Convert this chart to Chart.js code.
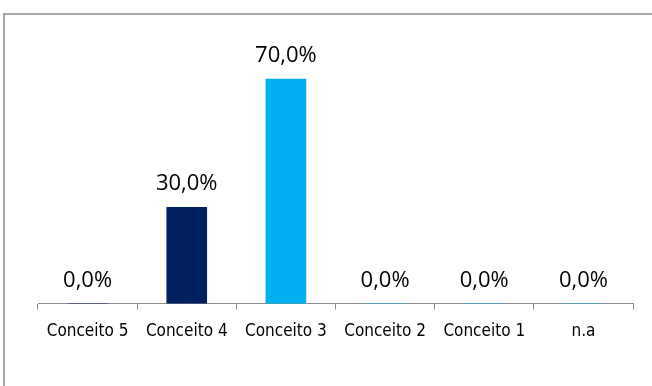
<!DOCTYPE html>
<html>
<head>
<meta charset="utf-8">
<script src="https://cdn.jsdelivr.net/npm/chart.js@4/dist/chart.umd.min.js"></script>
<style>
  html, body { margin: 0; padding: 0; background: #fff; }
  #frame {
    position: absolute; left: 3px; top: 13px;
    width: 649px; height: 373px;
    border-top: 2px solid #a6a6a6; border-left: 2px solid #a6a6a6;
  }
  #wrap { position: relative; width: 647px; height: 371px; }
</style>
</head>
<body>
<div id="frame"><div id="wrap"><canvas id="chart"></canvas></div></div>
<script>
const categories = ["Conceito 5", "Conceito 4", "Conceito 3", "Conceito 2", "Conceito 1", "n.a"];
const shares = [0, 0.30, 0.70, 0, 0, 0];
const barColors = ["#002060", "#002060", "#00b0f0", "#00b0f0", "#00b0f0", "#00b0f0"];

const fmtPct = (v) => (v * 100).toFixed(1).replace(".", ",") + "%";

// values written above each bar
const valueLabels = {
  id: "valueLabels",
  afterDatasetsDraw(chart) {
    const ctx = chart.ctx;
    const meta = chart.getDatasetMeta(0);
    ctx.save();
    ctx.font = "22px 'Open Sans'";
    ctx.fillStyle = "#000";
    ctx.textAlign = "center";
    ctx.textBaseline = "alphabetic";
    meta.data.forEach((bar, i) => {
      ctx.fillText(fmtPct(shares[i]), bar.x, bar.y - 17);
    });
    ctx.restore();
  }
};

const ctx = document.getElementById("chart").getContext("2d");
new Chart(ctx, {
  type: "bar",
  data: {
    labels: categories,
    datasets: [{
      data: shares,
      backgroundColor: barColors,
      borderWidth: 0,
      barThickness: 40
    }]
  },
  options: {
    responsive: true,
    maintainAspectRatio: false,
    animation: false,
    layout: { padding: { left: 33, right: 19, top: 32, bottom: 32 } },
    plugins: {
      legend: { display: false },
      tooltip: { enabled: false }
    },
    scales: {
      x: {
        offset: true,
        border: { display: true, color: "#8c8c8c", width: 1 },
        grid: { offset: true, drawOnChartArea: false, drawTicks: true, tickLength: 6, color: "#8c8c8c" },
        ticks: {
          color: "#000",
          padding: 12,
          maxRotation: 0,
          font: { family: "'Liberation Sans Narrow', 'DejaVu Sans Condensed', 'Roboto'", size: 17 }
        }
      },
      y: {
        display: false,
        min: 0,
        max: 0.8
      }
    }
  },
  plugins: [valueLabels]
});
</script>
</body>
</html>
